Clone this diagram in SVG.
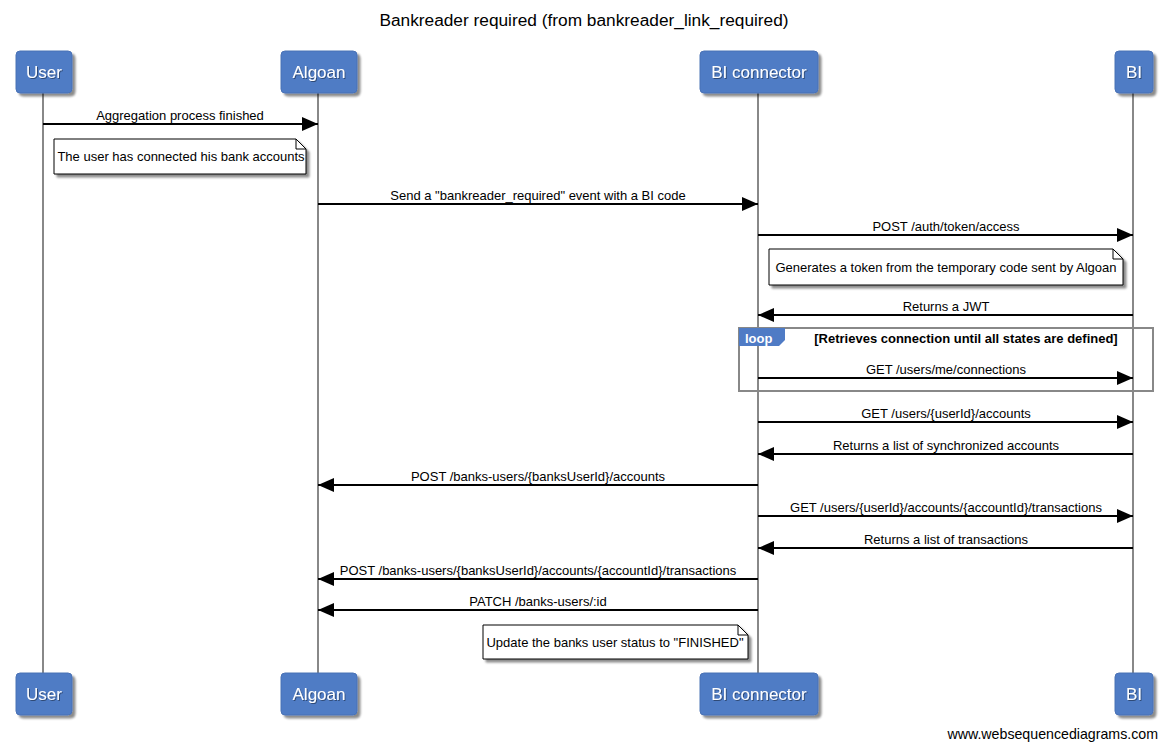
<svg xmlns="http://www.w3.org/2000/svg" width="1168" height="750" viewBox="0 0 1168 750">
<style>
text{font-family:"Liberation Sans",Arial,sans-serif;fill:#000}
.t{font-size:17.3px;text-anchor:middle}
.m{font-size:13px;text-anchor:middle}
.a{font-size:17px;text-anchor:middle;fill:#fff}
.box{fill:#4f7bc5;stroke:#4a72b5;stroke-width:1}
.life{stroke:#888;stroke-width:2}
.msg{stroke:#000;stroke-width:2;fill:none}
.note{fill:#fff;stroke:#000;stroke-width:1}
</style>
<defs>
<marker id="ah" viewBox="0 0 16 14" refX="16" refY="7" markerWidth="16" markerHeight="14" markerUnits="userSpaceOnUse" orient="auto">
<path d="M0,0 L16,7 L0,14 Z" fill="#000"/>
</marker>
<filter id="ds" x="-10%" y="-10%" width="130%" height="140%">
<feDropShadow dx="3" dy="3" stdDeviation="1.2" flood-color="#000" flood-opacity="0.45"/>
</filter>
<filter id="ts" x="-10%" y="-20%" width="130%" height="150%">
<feDropShadow dx="1" dy="1" stdDeviation="0.5" flood-color="#000" flood-opacity="0.4"/>
</filter>
</defs>
<rect width="1168" height="750" fill="#fff"/>
<text class="t" x="584" y="26">Bankreader required (from bankreader_link_required)</text>

<g id="lifelines">
<line class="life" x1="43" y1="93" x2="43" y2="673"/>
<line class="life" x1="318" y1="93" x2="318" y2="673"/>
<line class="life" x1="758" y1="93" x2="758" y2="673"/>
<line class="life" x1="1133" y1="93" x2="1133" y2="673"/>
</g>

<g id="actor-user">
<rect class="box" x="16" y="51" width="56" height="42" rx="4" filter="url(#ds)"/>
<text class="a" x="44" y="78" filter="url(#ts)">User</text>
<rect class="box" x="16" y="673" width="56" height="42" rx="4" filter="url(#ds)"/>
<text class="a" x="44" y="700" filter="url(#ts)">User</text>
</g>
<g id="actor-algoan">
<rect class="box" x="281" y="51" width="76" height="42" rx="4" filter="url(#ds)"/>
<text class="a" x="319" y="78" filter="url(#ts)">Algoan</text>
<rect class="box" x="281" y="673" width="76" height="42" rx="4" filter="url(#ds)"/>
<text class="a" x="319" y="700" filter="url(#ts)">Algoan</text>
</g>
<g id="actor-biconnector">
<rect class="box" x="700" y="51" width="118" height="42" rx="4" filter="url(#ds)"/>
<text class="a" x="759" y="78" filter="url(#ts)">BI connector</text>
<rect class="box" x="700" y="673" width="118" height="42" rx="4" filter="url(#ds)"/>
<text class="a" x="759" y="700" filter="url(#ts)">BI connector</text>
</g>
<g id="actor-bi">
<rect class="box" x="1115" y="51" width="38" height="42" rx="4" filter="url(#ds)"/>
<text class="a" x="1134" y="78" filter="url(#ts)">BI</text>
<rect class="box" x="1115" y="673" width="38" height="42" rx="4" filter="url(#ds)"/>
<text class="a" x="1134" y="700" filter="url(#ts)">BI</text>
</g>

<g id="loop">
<rect x="739" y="328" width="414" height="63" fill="none" stroke="#888" stroke-width="2"/>
<path d="M739,328 H785 V340 L779,346 H739 Z" fill="#4f7bc5"/>
<text x="745" y="343" style="font-size:13px;fill:#fff;font-weight:bold">loop</text>
<text x="966" y="343" style="font-size:13px;font-weight:bold;text-anchor:middle">[Retrieves connection until all states are defined]</text>
</g>

<g id="note1">
<path class="note" d="M54,139 H296 L306,149 V174 H54 Z" filter="url(#ds)"/>
<path d="M296,139 V149 H306" fill="none" stroke="#000" stroke-width="1"/>
<text class="m" x="181" y="161">The user has connected his bank accounts</text>
</g>
<g id="note2">
<path class="note" d="M769,249 H1113 L1123,259 V285 H769 Z" filter="url(#ds)"/>
<path d="M1113,249 V259 H1123" fill="none" stroke="#000" stroke-width="1"/>
<text class="m" x="946" y="272">Generates a token from the temporary code sent by Algoan</text>
</g>
<g id="note3">
<path class="note" d="M483,625 H738 L748,635 V659 H483 Z" filter="url(#ds)"/>
<path d="M738,625 V635 H748" fill="none" stroke="#000" stroke-width="1"/>
<text class="m" x="615" y="647">Update the banks user status to "FINISHED"</text>
</g>

<g id="connectors">
<line class="msg" x1="43" y1="124" x2="318" y2="124" marker-end="url(#ah)"/>
<text class="m" x="180" y="120">Aggregation process finished</text>
<line class="msg" x1="318" y1="204" x2="758" y2="204" marker-end="url(#ah)"/>
<text class="m" x="538" y="200">Send a "bankreader_required" event with a BI code</text>
<line class="msg" x1="758" y1="235" x2="1133" y2="235" marker-end="url(#ah)"/>
<text class="m" x="946" y="231">POST /auth/token/access</text>
<line class="msg" x1="1133" y1="315" x2="758" y2="315" marker-end="url(#ah)"/>
<text class="m" x="946" y="311">Returns a JWT</text>
<line class="msg" x1="758" y1="378" x2="1133" y2="378" marker-end="url(#ah)"/>
<text class="m" x="946" y="374">GET /users/me/connections</text>
<line class="msg" x1="758" y1="422" x2="1133" y2="422" marker-end="url(#ah)"/>
<text class="m" x="946" y="418">GET /users/{userId}/accounts</text>
<line class="msg" x1="1133" y1="454" x2="758" y2="454" marker-end="url(#ah)"/>
<text class="m" x="946" y="450">Returns a list of synchronized accounts</text>
<line class="msg" x1="758" y1="485" x2="318" y2="485" marker-end="url(#ah)"/>
<text class="m" x="538" y="481">POST /banks-users/{banksUserId}/accounts</text>
<line class="msg" x1="758" y1="516" x2="1133" y2="516" marker-end="url(#ah)"/>
<text class="m" x="946" y="512">GET /users/{userId}/accounts/{accountId}/transactions</text>
<line class="msg" x1="1133" y1="548" x2="758" y2="548" marker-end="url(#ah)"/>
<text class="m" x="946" y="544">Returns a list of transactions</text>
<line class="msg" x1="758" y1="579" x2="318" y2="579" marker-end="url(#ah)"/>
<text class="m" x="538" y="575">POST /banks-users/{banksUserId}/accounts/{accountId}/transactions</text>
<line class="msg" x1="758" y1="610" x2="318" y2="610" marker-end="url(#ah)"/>
<text class="m" x="538" y="606">PATCH /banks-users/:id</text>
</g>

<text x="1158" y="739" style="font-size:14.2px;text-anchor:end">www.websequencediagrams.com</text>
</svg>
